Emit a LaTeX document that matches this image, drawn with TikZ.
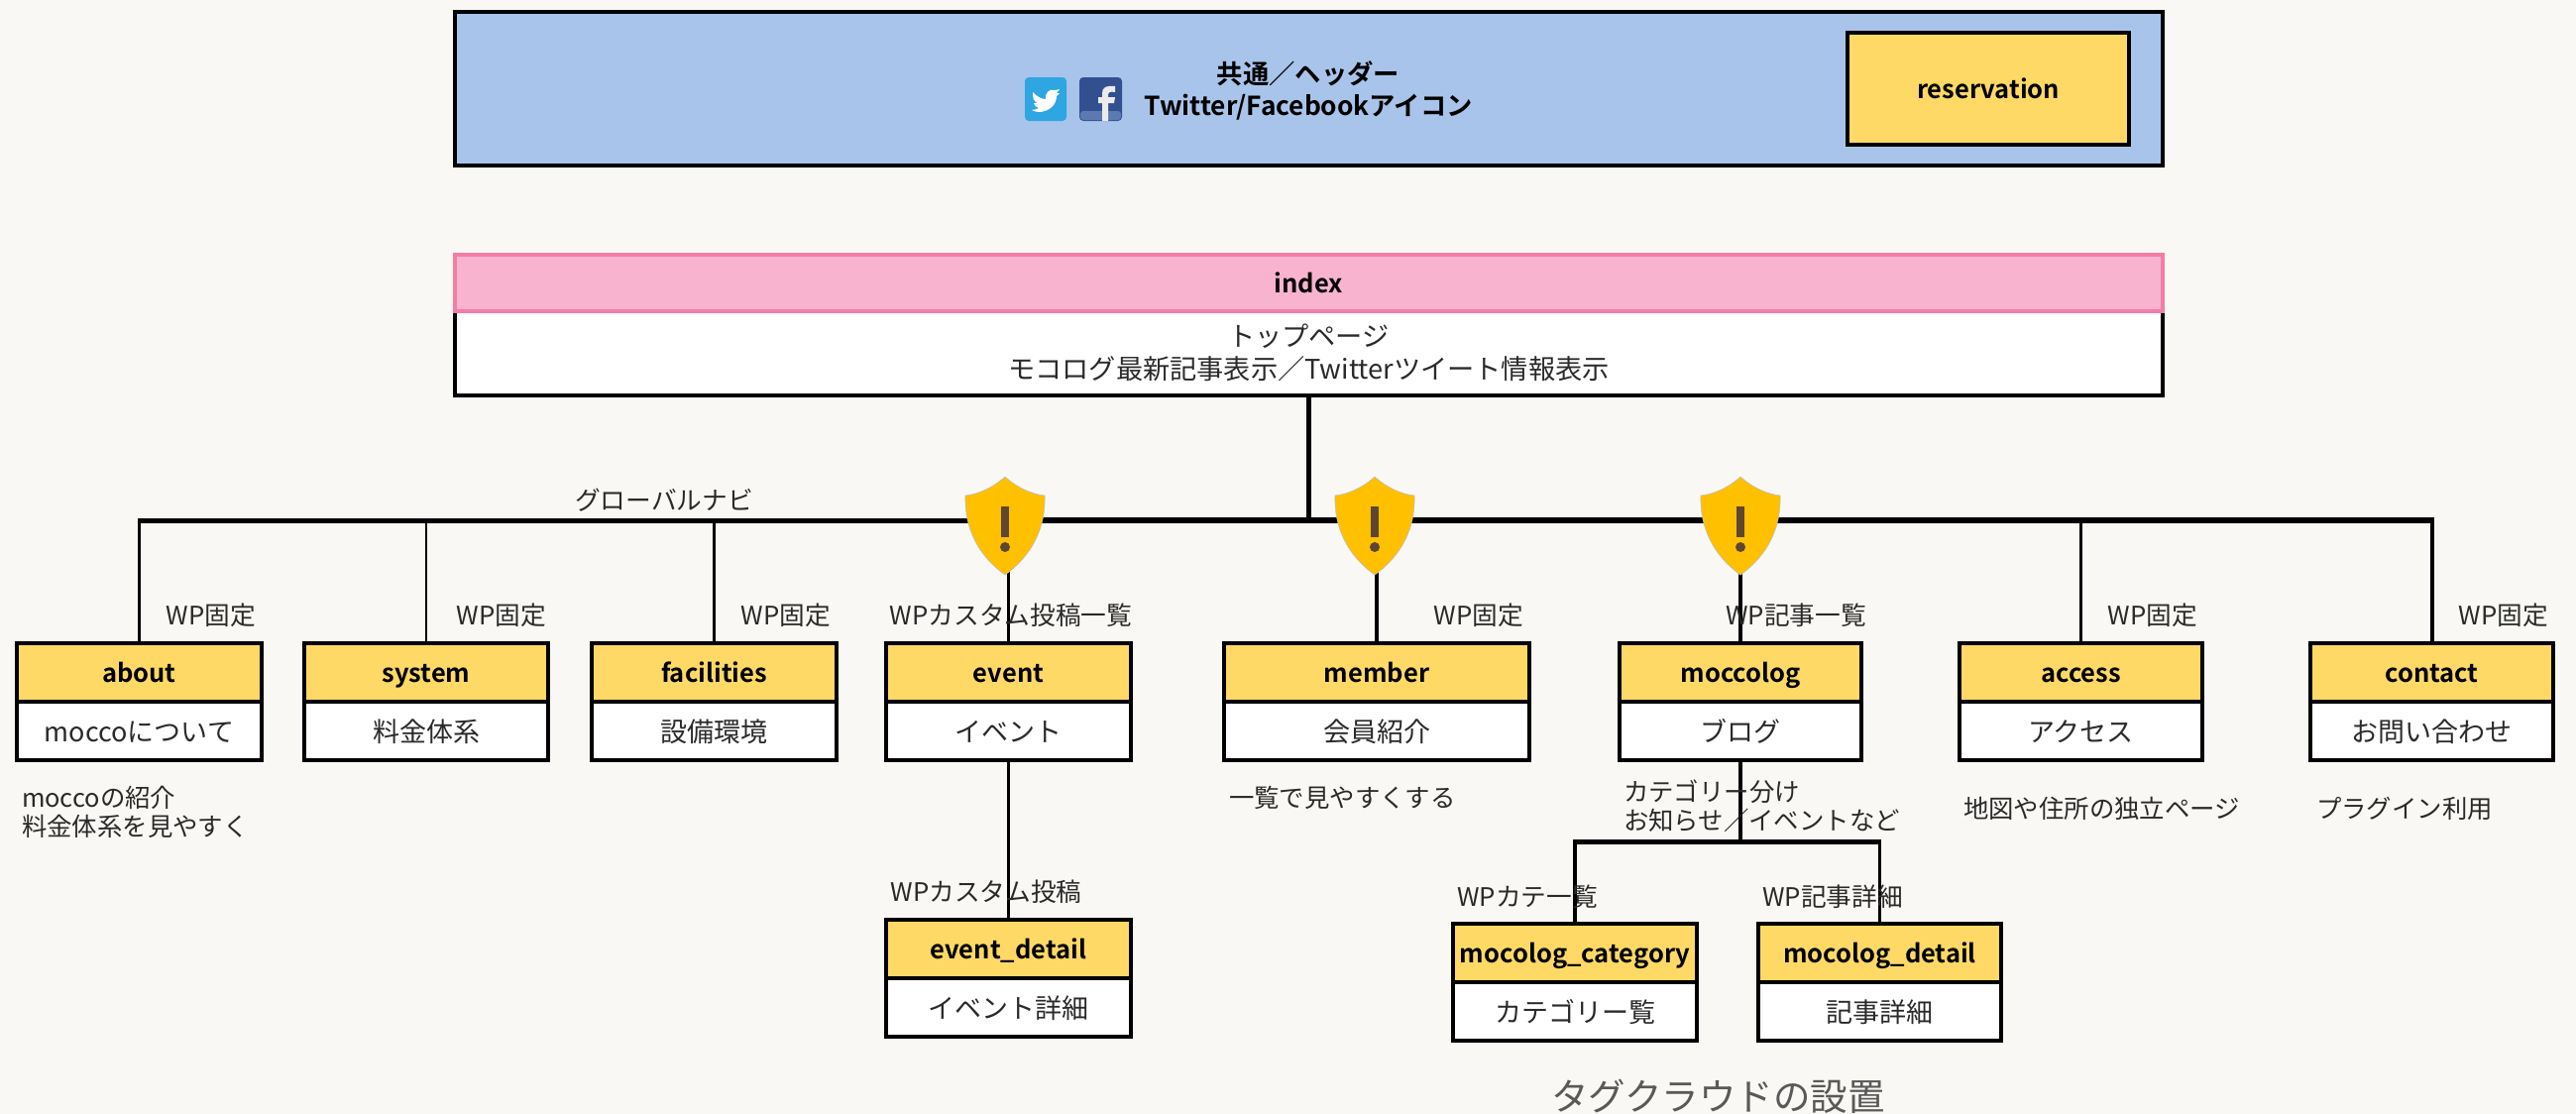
\documentclass[tikz,border=0pt]{standalone}
\usepackage{fontspec}
\setmainfont{Noto Sans CJK JP}[BoldFont={Noto Sans CJK JP Bold}]
\definecolor{pagebg}{HTML}{F9F8F4}
\definecolor{headblue}{HTML}{A8C4EA}
\definecolor{yellowhead}{HTML}{FFD966}
\definecolor{pinkhead}{HTML}{F8B3CE}
\definecolor{pinkline}{HTML}{F47CA6}
\definecolor{inkbody}{HTML}{2A2A2A}
\definecolor{shieldfill}{HTML}{FFC000}
\definecolor{shieldmark}{HTML}{5E4632}
\definecolor{twblue}{HTML}{2DA6E2}
\definecolor{fbblue}{HTML}{32508F}
\definecolor{fbband}{HTML}{5C79B2}
\tikzset{
  x=1pt,y=-1pt,
  every node/.style={inner sep=0pt,outer sep=0pt},
  boxline/.style={draw=black,line width=4pt},
  bodybox/.style={boxline,fill=white,minimum height=59pt,text=inkbody,font=\fontsize{27}{30}\selectfont,text height=23pt,text depth=2pt},
  headbox/.style={boxline,fill=yellowhead,minimum height=59pt,text=black,font=\fontsize{25.5}{28}\selectfont\bfseries,text height=22pt,text depth=3pt},
  notelabel/.style={text=inkbody,font=\fontsize{25.7}{28}\selectfont,text height=22pt,text depth=2pt},
  multinote/.style={text=inkbody,align=left,anchor=west,font=\fontsize{25.4}{29}\selectfont},
  conn/.style={draw=black,line width=3.5pt},
  connthin/.style={draw=black,line width=2.5pt},
  connthick/.style={draw=black,line width=5pt},
}
\newcommand{\pagebox}[6]{%
  \node[bodybox,minimum width=#4pt] (#1b) at (#2,#3+88.5) {#6};
  \node[headbox,minimum width=#4pt] (#1h) at (#2,#3+29.5) {#5};
}
\newcommand{\shieldmark}[1]{%
  \begin{scope}[shift={(#1,0)}]
    \fill[shieldfill,draw=black!25,line width=.6pt] (0,481) .. controls (-12,492) and (-28,499) .. (-40,500)
      .. controls (-41,532) and (-28,560) .. (0,580)
      .. controls (28,560) and (41,532) .. (40,500)
      .. controls (28,499) and (12,492) .. (0,481) -- cycle;
    \fill[shieldmark] (-4,511) rectangle (4,542);
    \fill[shieldmark] (0,552) circle (5);
  \end{scope}
}
\begin{document}
\begin{tikzpicture}
\fill[pagebg] (0,0) rectangle (2599,1124);
\useasboundingbox (0,0) rectangle (2599,1124);

% header
\node[boxline,fill=headblue,minimum width=1723pt,minimum height=155pt] (header) at (1320.5,89.5) {};
\node[boxline,fill=yellowhead,minimum width=284pt,minimum height=113pt,font=\fontsize{25.5}{28}\selectfont\bfseries] (reservation) at (2006,89.5) {reservation};
\node[font=\fontsize{26.3}{32}\selectfont\bfseries,align=center,text=black] (headertext) at (1320,91) {共通／ヘッダー\\Twitter/Facebookアイコン};
% icons
\fill[twblue,rounded corners=4pt] (1034,78) rectangle (1076,122);
\fill[white] (1042,93) .. controls (1047,98) and (1051,100) .. (1055,100)
  .. controls (1054,94) and (1059,89) .. (1064,91) -- (1069,90) -- (1066,94) -- (1069,94) -- (1066,97)
  .. controls (1066,106) and (1058,113) .. (1048,113) .. controls (1045,113) and (1043,112) .. (1041,111)
  .. controls (1044,111) and (1046,110) .. (1048,109) .. controls (1045,108) and (1043,106) .. (1043,104)
  .. controls (1044,104) and (1045,104) .. (1046,104) .. controls (1043,102) and (1042,100) .. (1042,93) -- cycle;
\fill[fbblue,rounded corners=4pt] (1089,78) rectangle (1132,122);
\fill[fbband,rounded corners=3pt] (1090,112) rectangle (1131,121);
\fill[white!92!black] (1112,122) -- (1112,104) -- (1108,104) -- (1108,98) -- (1112,98) -- (1112,94)
  .. controls (1112,88) and (1116,86) .. (1125,87) -- (1125,93) .. controls (1120,92) and (1118,93) .. (1118,96)
  -- (1118,98) -- (1125,98) -- (1124,104) -- (1118,104) -- (1118,122) -- cycle;

% index
\node[boxline,fill=white,minimum width=1723pt,minimum height=86pt,text=inkbody,align=center,font=\fontsize{27.2}{33}\selectfont] (indexb) at (1320.5,356) {トップページ\\モコログ最新記事表示／Twitterツイート情報表示};
\node[draw=pinkline,line width=4pt,fill=pinkhead,minimum width=1723pt,minimum height=57pt,font=\fontsize{25.5}{28}\selectfont\bfseries] (indexh) at (1320.5,285) {index};

% pages
\pagebox{about}{140.5}{649}{247}{about}{moccoについて}
\pagebox{system}{430}{649}{246}{system}{料金体系}
\pagebox{facilities}{720.5}{649}{247}{facilities}{設備環境}
\pagebox{event}{1017.5}{649}{247}{event}{イベント}
\pagebox{member}{1389}{649}{308}{member}{会員紹介}
\pagebox{moccolog}{1756}{649}{244}{moccolog}{ブログ}
\pagebox{access}{2099.5}{649}{245}{access}{アクセス}
\pagebox{contact}{2453.5}{649}{245}{contact}{お問い合わせ}
\pagebox{eventdetail}{1017.5}{928}{247}{event\_detail}{イベント詳細}
\pagebox{mocat}{1589}{932}{246}{mocolog\_category}{カテゴリー覧}
\pagebox{modetail}{1896.5}{932}{245}{mocolog\_detail}{記事詳細}

% connectors
\coordinate (barleft) at (140.5,525);
\coordinate (barmid) at (1017.5,525);
\coordinate (barright) at (2453.5,525);
\coordinate (catbar) at (1756,849);
\draw[connthick] (indexb.south) -- (indexb.south |- barmid);
\draw[connthick] ([xshift=-1.75pt]barleft) -- (barmid);
\draw[draw=black,line width=6.5pt] (barmid) -- ([xshift=2pt]barright);
\draw[conn] (abouth.north) -- (abouth.north |- barleft);
\draw[connthin] (systemh.north) -- (systemh.north |- barleft);
\draw[connthin] (facilitiesh.north) -- (facilitiesh.north |- barleft);
\draw[conn] (eventh.north) -- (eventh.north |- barleft);
\draw[conn] (memberh.north) -- (memberh.north |- barleft);
\draw[conn] (moccologh.north) -- (moccologh.north |- barleft);
\draw[conn] (accessh.north) -- (accessh.north |- barleft);
\draw[line width=4pt] (contacth.north) -- (contacth.north |- barleft);
\draw[conn] (eventb.south) -- (eventdetailh.north);
\draw[conn] (moccologb.south) -- (catbar);
\draw[connthick] ([xshift=-1.75pt]mocath.north |- catbar) -- ([xshift=1.75pt]modetailh.north |- catbar);
\draw[conn] (mocath.north) -- (mocath.north |- catbar);
\draw[conn] (modetailh.north) -- (modetailh.north |- catbar);

% warning shields
\shieldmark{1014}
\shieldmark{1387}
\shieldmark{1756}

% labels
\node[notelabel] (gnav) at (670,504) {グローバルナビ};
\node[notelabel] (wpabout) at (213,620) {WP固定};
\node[notelabel] (wpsystem) at (506,620) {WP固定};
\node[notelabel] (wpfac) at (793,620) {WP固定};
\node[notelabel] (wpevent) at (1020,620) {WPカスタム投稿一覧};
\node[notelabel] (wpmember) at (1492,620) {WP固定};
\node[notelabel] (wpblog) at (1812,620) {WP記事一覧};
\node[notelabel] (wpaccess) at (2172,620) {WP固定};
\node[notelabel] (wpcontact) at (2526,620) {WP固定};
\node[notelabel] (wpevdetail) at (995,899) {WPカスタム投稿};
\node[notelabel] (wpcat) at (1541,904) {WPカテ一覧};
\node[notelabel] (wpdetail) at (1849,904) {WP記事詳細};
\node[multinote] (noteabout) at (22,819) {moccoの紹介\\料金体系を見やすく};
\node[multinote] (notemember) at (1240,805) {一覧で見やすくする};
\node[multinote] (noteblog) at (1638,813) {カテゴリー分け\\お知らせ／イベントなど};
\node[multinote] (noteaccess) at (1981,816) {地図や住所の独立ページ};
\node[multinote] (notecontact) at (2337,816) {プラグイン利用};
\node[text=black!65,anchor=west,font=\fontsize{37.5}{40}\selectfont] (tagcloud) at (1565,1106) {タグクラウドの設置};
\end{tikzpicture}
\end{document}
